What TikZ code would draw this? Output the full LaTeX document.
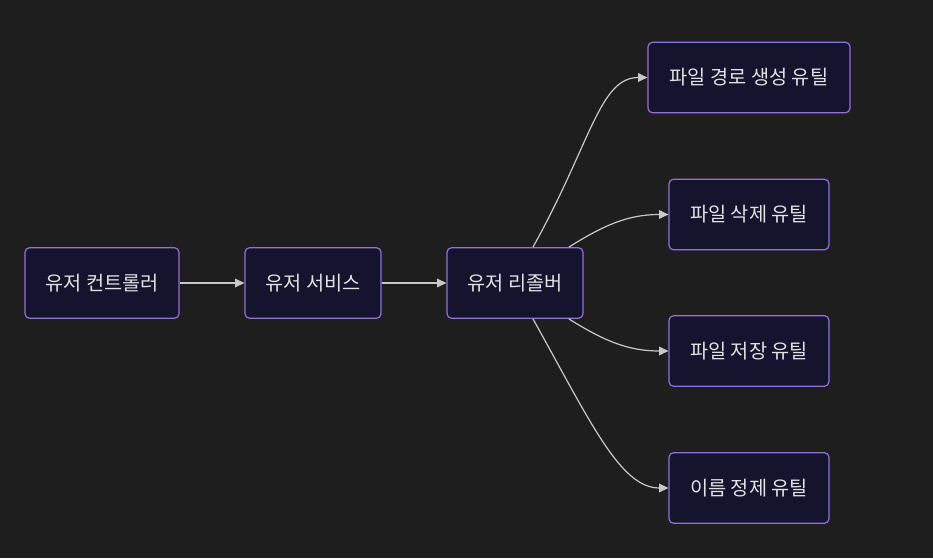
\documentclass[tikz,border=0pt]{standalone}
\usepackage{fontspec}
\newfontfamily\kr{Noto Sans CJK KR}
\usetikzlibrary{arrows.meta}
\definecolor{bgcol}{HTML}{1E1E1E}
\definecolor{boxfill}{HTML}{14142F}
\definecolor{boxline}{HTML}{9370DB}
\definecolor{boxtext}{HTML}{E2E2E2}
\definecolor{edgecol}{HTML}{C8C8C8}
\tikzset{
  box/.style={draw=boxline, fill=boxfill, line width=0.9pt, rounded corners=3.5pt,
    minimum height=53pt, text=boxtext, font=\kr\fontsize{14.8pt}{17pt}\selectfont},
  edge/.style={draw=edgecol, line width=0.9pt, -{Triangle[length=7pt,width=6.5pt]}}
}
\begin{document}
\begin{tikzpicture}[x=0.75pt,y=0.75pt]
  % 배경 (933x558 px)
  \fill[bgcol] (0,0) rectangle (933,558);
  \useasboundingbox (0,0) rectangle (933,558);
  % 왼쪽 줄
  \node[box, minimum width=115.5pt] (ctrl) at (102,275) {유저 컨트롤러};
  \node[box, minimum width=102pt] (svc) at (313,275) {유저 서비스};
  \node[box, minimum width=102pt] (res) at (515,275) {유저 리졸버};
  % 오른쪽 유틸들
  \node[box, minimum width=151.5pt] (pathutil) at (749,480.5) {파일 경로 생성 유틸};
  \node[box, minimum width=120pt] (delutil) at (749,343.5) {파일 삭제 유틸};
  \node[box, minimum width=120pt] (saveutil) at (749,207) {파일 저장 유틸};
  \node[box, minimum width=120pt] (nameutil) at (749,70) {이름 정제 유틸};
  \coordinate (restop) at ([xshift=13.5pt]res.north);
  \coordinate (resbot) at ([xshift=13.5pt]res.south);
  \draw[edge] (ctrl) -- (svc);
  \draw[edge] (svc) -- (res);
  \draw[edge] (restop) .. controls ([shift={(58,104)}]restop) and ([xshift=-36]pathutil.west) .. (pathutil.west);
  \draw[edge] ([xshift=-11pt]res.north east) to[out=32,in=180] (delutil.west);
  \draw[edge] ([xshift=-11pt]res.south east) to[out=-32,in=180] (saveutil.west);
  \draw[edge] (resbot) .. controls ([shift={(58,-104)}]resbot) and ([xshift=-36]nameutil.west) .. (nameutil.west);
\end{tikzpicture}
\end{document}
